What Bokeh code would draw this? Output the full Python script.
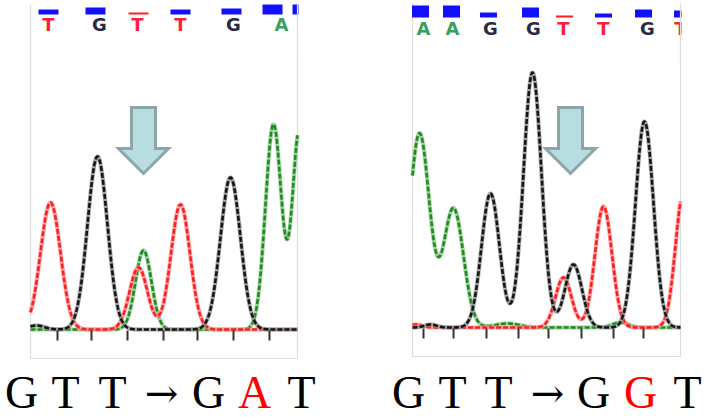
import numpy as np
from bokeh.plotting import figure
from bokeh.models import Range1d, ColumnDataSource
from bokeh.core.properties import value
from bokeh.embed import file_html
from bokeh.resources import INLINE

# ---------------- data ----------------
# Left chromatogram: GTT -> GAT (T/A double peak)
L_call_bases = ["T", "G", "T", "T", "G", "A"]
L_call_pos = [48, 99, 137, 180, 233, 281]
L_qual_pos = [48, 95, 138, 180, 231, 272, 302]
L_qual_val = [5, 7, 2, 5, 6, 10, 10]
L_qual_low = [False, False, True, False, False, False, False]
L_tick_pos = [57, 91, 127, 163, 197, 233, 269]
L_T_center = [50, 138, 180]
L_T_height = [127, 62, 125]
L_T_sigma = [10, 9, 9.5]
L_G_center = [36, 97, 230]
L_G_height = [4, 173, 152]
L_G_sigma = [8, 10, 10]
L_A_center = [143, 273, 299]
L_A_height = [79, 205, 200]
L_A_sigma = [8, 8, 7]

# Right chromatogram: GTT -> GGT (T/G double peak)
R_call_bases = ["A", "A", "G", "G", "T", "T", "G", "T"]
R_call_pos = [423, 452, 490, 533, 563, 603, 647, 680]
R_qual_pos = [420, 451, 488, 530, 564, 603, 643, 682]
R_qual_val = [12, 12, 5, 10, 2, 4, 8, 7]
R_qual_low = [False, False, False, False, True, False, False, False]
R_tick_pos = [423, 453, 486, 518, 548, 581, 613, 643]
R_T_center = [416, 563, 603, 683]
R_T_height = [3, 50, 121, 135]
R_T_sigma = [6, 8, 8.5, 8]
R_G_center = [430, 490, 532, 573, 644]
R_G_height = [3, 134, 255, 63, 206]
R_G_sigma = [6, 9, 9, 8.5, 9]
R_A_center = [419, 453, 507, 620]
R_A_height = [194, 119, 4, 5]
R_A_sigma = [10, 10, 12, 8]

# Captions
L_caption = ["G", "T", "T", "\u2192", "G", "A", "T"]
L_caption_pos = [21, 65, 112, 161, 208, 254, 301]
L_caption_mut = [False, False, False, False, False, True, False]
R_caption = ["G", "T", "T", "\u2192", "G", "G", "T"]
R_caption_pos = [408, 452, 498, 547, 593, 640, 687]
R_caption_mut = [False, False, False, False, False, True, False]

# mutation site arrows (tip x)
ARROW_X = [143, 570]

# ---------------- layout / style constants ----------------
W, H = 709, 417
PANELS = [
    dict(x0=30, x1=297, base=329, top=4, bottom=358, qbot=14, qw=20, let_y=24),
    dict(x0=412, x1=680, base=327, top=3, bottom=356, qbot=17, qw=17, let_y=28),
]
COL = {"T": "#ff1e1e", "G": "#151515", "A": "#1f8c1f"}
COL_LIGHT = {"T": "#ff9a9a", "G": "#9a9a9a", "A": "#9acd9a"}
LET_COL = {"T": "#ff1f3a", "G": "#2a2a44", "A": "#3aa060"}
ARROW_TIP_Y = 173
CAPTION_Y = 392

p = figure(width=W, height=H, x_range=Range1d(0, W), y_range=Range1d(H, 0),
           output_backend="svg", toolbar_location=None, min_border=0,
           x_axis_type=None, y_axis_type=None)
p.grid.visible = False
p.outline_line_color = None
p.background_fill_color = "white"
p.border_fill_color = "white"

panel_data = [
    dict(calls=(L_call_bases, L_call_pos), qual=(L_qual_pos, L_qual_val, L_qual_low),
         ticks=L_tick_pos,
         peaks={"T": (L_T_center, L_T_height, L_T_sigma),
                "G": (L_G_center, L_G_height, L_G_sigma),
                "A": (L_A_center, L_A_height, L_A_sigma)}),
    dict(calls=(R_call_bases, R_call_pos), qual=(R_qual_pos, R_qual_val, R_qual_low),
         ticks=R_tick_pos,
         peaks={"T": (R_T_center, R_T_height, R_T_sigma),
                "G": (R_G_center, R_G_height, R_G_sigma),
                "A": (R_A_center, R_A_height, R_A_sigma)}),
]

for geo, d in zip(PANELS, panel_data):
    # frame
    fx = [geo["x0"], geo["x0"], geo["x1"], geo["x1"]]
    fy = [geo["top"], geo["bottom"], geo["bottom"], geo["top"]]
    p.line(fx, fy, line_color="#dedede", line_width=1.2)

    # traces
    xs = np.linspace(geo["x0"], geo["x1"], 700)
    for base in ["A", "T", "G"]:
        cs, hs, ss = d["peaks"][base]
        sig = np.zeros_like(xs)
        for c, h, s in zip(cs, hs, ss):
            sig += h * np.exp(-(xs - c) ** 2 / (2 * s * s))
        ys = geo["base"] - sig
        p.line(xs, ys, line_color=COL_LIGHT[base], line_width=4.2, line_alpha=0.85)
        p.line(xs, ys, line_color=COL[base], line_width=2.6, line_dash="5 2")

    # ticks
    tks = d["ticks"]
    p.segment(x0=tks, x1=tks, y0=[geo["base"] + 1] * len(tks), y1=[geo["base"] + 11] * len(tks),
              line_color="#333333", line_width=2)

    # quality bars
    qp, qv, ql = d["qual"]
    qsrc = ColumnDataSource(dict(
        left=[x - geo["qw"] / 2 for x in qp], right=[x + geo["qw"] / 2 for x in qp],
        bottom=[geo["qbot"]] * len(qp), top=[geo["qbot"] - v for v in qv],
        color=["#ff1e1e" if lo else "#1010ff" for lo in ql]))
    p.quad(left="left", right="right", top="top", bottom="bottom", source=qsrc,
           fill_color="color", line_color=None)

    # base calls
    cb, cp = d["calls"]
    csrc = ColumnDataSource(dict(x=cp, y=[geo["let_y"]] * len(cp), t=cb,
                                 c=[LET_COL[b] for b in cb]))
    p.text(x="x", y="y", text="t", source=csrc, text_color="c",
           text_font=value("DejaVu Sans"), text_font_style="bold",
           text_font_size="18px", text_align="center", text_baseline="middle")

# masks clipping the base calls / bars at panel right edges
p.quad(left=[PANELS[0]["x1"] + 1, PANELS[1]["x1"] + 1], right=[PANELS[1]["x0"] - 1, W + 1],
       top=[0, 0], bottom=[60, 60], fill_color="white", line_color=None)
for geo in PANELS:
    p.line([geo["x1"], geo["x1"]], [geo["top"], 60], line_color="#dedede", line_width=1.2)

# arrows at mutation site
for ax in ARROW_X:
    ty = ARROW_TIP_Y
    px = [ax - 12, ax + 12, ax + 12, ax + 25, ax, ax - 25, ax - 12]
    py = [ty - 66, ty - 66, ty - 25, ty - 25, ty, ty - 25, ty - 25]
    p.patch(px, py, fill_color="#b8dde1", line_color="#8aa6a8", line_width=3,
            line_join="miter")

# captions
for chars, pos, mut in [(L_caption, L_caption_pos, L_caption_mut),
                        (R_caption, R_caption_pos, R_caption_mut)]:
    is_arrow = [ch == "\u2192" for ch in chars]
    src = ColumnDataSource(dict(
        x=pos, y=[CAPTION_Y] * len(pos), t=chars,
        c=["#ff0000" if m else "#000000" for m in mut],
        f=["DejaVu Serif" if a else "Liberation Serif" for a in is_arrow],
        s=["40px" if a else "46px" for a in is_arrow]))
    p.text(x="x", y="y", text="t", source=src, text_color="c",
           text_font="f", text_font_size="s",
           text_align="center", text_baseline="middle")

open("out.html", "w").write(file_html(p, INLINE))
